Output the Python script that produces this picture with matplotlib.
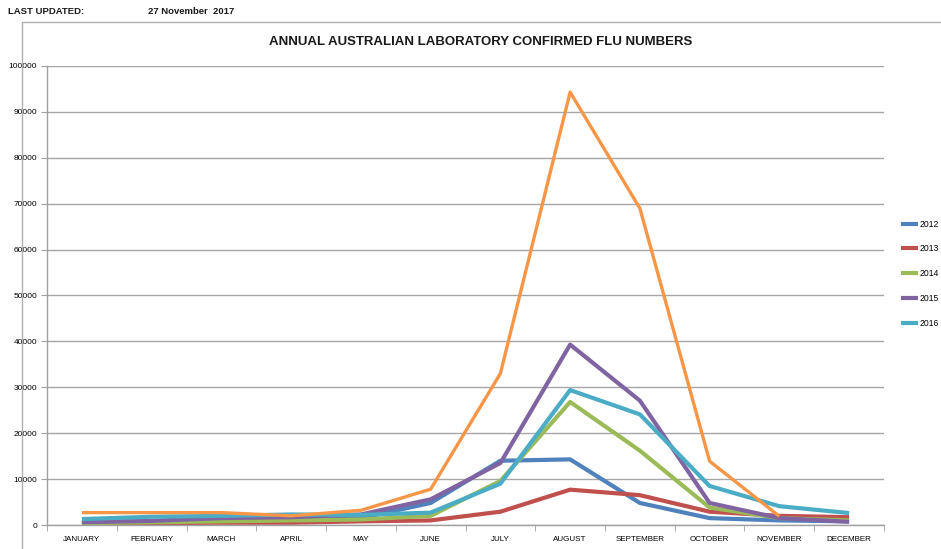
import matplotlib
matplotlib.use("Agg")
import matplotlib.pyplot as plt
from matplotlib.patches import Rectangle

plt.rcParams["font.family"] = ["Liberation Sans", "DejaVu Sans"]

# ── Data ───────────────────────────────────────────────────────────────────
months = ["JANUARY", "FEBRUARY", "MARCH", "APRIL", "MAY", "JUNE",
          "JULY", "AUGUST", "SEPTEMBER", "OCTOBER", "NOVEMBER", "DECEMBER"]

flu_2012 = [600, 800, 1000, 1000, 1500, 4800, 14000, 14300, 4800, 1500, 1000, 800]
flu_2013 = [300, 400, 500, 500, 800, 1000, 2900, 7700, 6500, 2900, 2000, 1700]
flu_2014 = [400, 600, 800, 1000, 1200, 2000, 9600, 26800, 16200, 3800, 1500, 1000]
flu_2015 = [600, 900, 1500, 1700, 2300, 5600, 13500, 39300, 27100, 4800, 1500, 700]
flu_2016 = [1300, 1800, 2000, 2300, 2200, 2700, 9000, 29400, 24100, 8500, 4100, 2600]
flu_2017 = [2700, 2700, 2700, 2000, 3200, 7800, 33000, 94300, 69000, 13900, 1900]

series = [
    ("2012", flu_2012, "#4F81BD", 3.0),
    ("2013", flu_2013, "#C0504D", 3.0),
    ("2014", flu_2014, "#9BBB59", 3.0),
    ("2015", flu_2015, "#8064A2", 3.0),
    ("2016", flu_2016, "#4BACC6", 3.0),
    ("2017", flu_2017, "#F79646", 2.4),
]

y_ticks = list(range(0, 100001, 10000))

# ── Plot ───────────────────────────────────────────────────────────────────
fig = plt.figure(figsize=(9.41, 5.49), dpi=100)
ax = fig.add_axes([0.0500, 0.0437, 0.8894, 0.8361])

handles = []
for label, vals, color, lw in series:
    ln, = ax.plot(range(len(vals)), vals, color=color, linewidth=lw,
                  solid_joinstyle="round", solid_capstyle="butt", label=label)
    if label != "2017":
        handles.append(ln)

ax.set_xlim(-0.5, 11.5)
ax.set_ylim(0, 100000)
ax.set_yticks(y_ticks)
ax.set_yticklabels([str(v) for v in y_ticks], fontsize=6)
ax.set_xticks(range(12))
ax.set_xticklabels(months, fontsize=5.8)
ax.set_xticks([i + 0.5 for i in range(-1, 12)], minor=True)
ax.tick_params(axis="x", which="major", length=0, pad=8)
ax.tick_params(axis="x", which="minor", length=4, color="#a0a0a0", direction="out")
ax.tick_params(axis="y", length=4, color="#a0a0a0", direction="out", pad=3)
ax.grid(axis="y", color="#a6a6a6", linewidth=1.0)
ax.set_axisbelow(True)
for s in ("top", "right"):
    ax.spines[s].set_visible(False)
for s in ("left", "bottom"):
    ax.spines[s].set_color("#a0a0a0")
    ax.spines[s].set_linewidth(1.0)

leg = ax.legend(handles=handles, loc="center left", bbox_to_anchor=(1.020, 0.547),
                frameon=False, fontsize=6.2, handlelength=2.0, handletextpad=0.15,
                labelspacing=1.85, borderaxespad=0, borderpad=0)

fig.suptitle("ANNUAL AUSTRALIAN LABORATORY CONFIRMED FLU NUMBERS",
             x=0.511, y=0.935, fontsize=9.5, fontweight="bold", color="#1a1a1a")

fig.text(8 / 941, 1 - 11 / 549, "LAST UPDATED:", fontsize=6.8, fontweight="bold",
         va="center", ha="left", color="#1a1a1a")
fig.text(148 / 941, 1 - 11 / 549, "27 November  2017", fontsize=6.8, fontweight="bold",
         va="center", ha="left", color="#1a1a1a")

fig.patches.append(Rectangle((22 / 941, -0.05), 1.0, 1 - 22 / 549 + 0.05,
                             transform=fig.transFigure, fill=False,
                             edgecolor="#b0b0b0", linewidth=1.0))

plt.savefig("out.png", dpi=100)
